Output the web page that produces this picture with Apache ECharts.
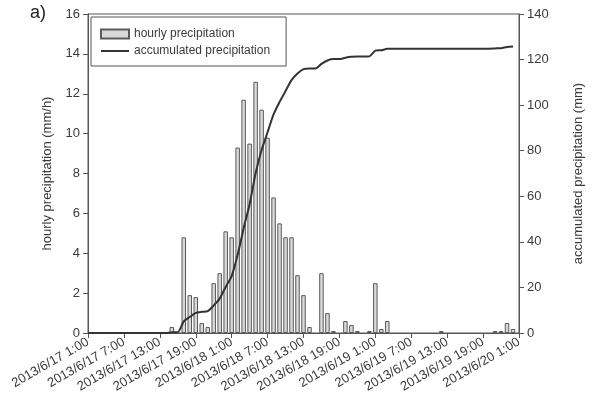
<!DOCTYPE html>
<html>
<head>
<meta charset="utf-8">
<script src="https://cdn.jsdelivr.net/npm/echarts@6/dist/echarts.min.js"></script>
<style>
html,body{margin:0;padding:0;background:#fff;}
#chart{width:593px;height:405px;}
</style>
</head>
<body>
<div id="chart"></div>
<script>
// Tick labels along the time axis (every 6 hours from 2013/6/17 1:00)
var tickLabels = ['2013/6/17 1:00','2013/6/17 7:00','2013/6/17 13:00','2013/6/17 19:00',
  '2013/6/18 1:00','2013/6/18 7:00','2013/6/18 13:00','2013/6/18 19:00',
  '2013/6/19 1:00','2013/6/19 7:00','2013/6/19 13:00','2013/6/19 19:00','2013/6/20 1:00'];

// Hourly precipitation (mm/h), index = hours after 2013/6/17 1:00
var hourly = [
  0,0,0,0,0,0,0,0,0,0,0,0,0,0,
  0.3,0,4.8,1.9,1.8,0.5,0.3,2.5,3.0,5.1,
  4.8,9.3,11.7,9.5,12.6,11.2,9.8,6.8,5.5,4.8,4.8,2.9,
  1.9,0.3,0,3.0,1.0,0.1,0,0.6,0.4,0.1,0,0.1,
  2.5,0.2,0.6,0,0,0,0,0,0,0,0,0.1,
  0,0,0,0,0,0,0,0,0.1,0.1,0.5,0.2
];

// Accumulated precipitation (mm), index = hours after 2013/6/17 1:00
var accumulated = [
  0,0,0,0,0,0,0,0,0,0,0,0,0,0,
  0.3,0.3,5.1,7.0,8.8,9.3,9.6,12.1,15.1,20.2,
  25.0,34.3,46.0,56.5,70.1,80.3,88.1,95.9,101.4,106.2,111.0,113.9,
  115.8,116.1,116.1,118.1,119.6,120.2,120.2,120.8,121.2,121.3,121.3,121.4,
  123.9,124.1,124.7,124.7,124.7,124.7,124.7,124.7,124.7,124.7,124.7,124.8,
  124.8,124.8,124.8,124.8,124.8,124.8,124.8,124.8,124.9,125.0,125.5,125.7
];

var barData = hourly.map(function(v,i){ return v === 0 ? [i,'-'] : [i,v]; });
var lineData = accumulated.map(function(v,i){ return [i,v]; });

var font = 'Liberation Sans, Arial, sans-serif';
var txt = '#3a3a3a';
var axc = '#555';

var chart = echarts.init(document.getElementById('chart'));
chart.setOption({
  animation:false,
  backgroundColor:'#fff',
  textStyle:{fontFamily:font,color:txt},
  grid:{left:88,right:65,top:14,bottom:72,show:true,borderColor:axc,borderWidth:1,backgroundColor:'transparent'},
  graphic:[{type:'text',left:30,top:4,style:{text:'a)',fontSize:18,fontFamily:font,fill:'#222'}}],
  legend:{
    orient:'vertical',left:91,top:17,
    borderColor:axc,borderWidth:1,padding:[11,16,9,9],itemGap:5,
    itemWidth:28,itemHeight:9,
    textStyle:{fontSize:12,color:txt,fontFamily:font},
    data:[{name:'hourly precipitation',icon:'rect'},
          {name:'accumulated precipitation',itemStyle:{opacity:0}}]
  },
  xAxis:{
    type:'value',min:0,max:72,interval:6,
    axisLine:{lineStyle:{color:axc}},
    axisTick:{show:true,length:5,lineStyle:{color:axc}},
    splitLine:{show:false},
    axisLabel:{rotate:30,fontSize:13,color:txt,fontFamily:font,margin:8,
      formatter:function(v){ return tickLabels[Math.round(v/6)]; }}
  },
  yAxis:[{
    type:'value',min:0,max:16,interval:2,
    name:'hourly precipitation (mm/h)',nameLocation:'middle',nameGap:34,nameRotate:90,
    nameTextStyle:{fontSize:13,color:txt,fontFamily:font},
    axisLine:{show:true,lineStyle:{color:axc}},
    axisTick:{show:true,length:5,lineStyle:{color:axc}},
    splitLine:{show:false},
    axisLabel:{fontSize:13,color:txt,fontFamily:font,margin:8}
  },{
    type:'value',min:0,max:140,interval:20,position:'right',
    name:'accumulated precipitation (mm)',nameLocation:'middle',nameGap:53,nameRotate:90,
    nameTextStyle:{fontSize:13,color:txt,fontFamily:font},
    axisLine:{show:true,lineStyle:{color:axc}},
    axisTick:{show:true,length:5,lineStyle:{color:axc}},
    splitLine:{show:false},
    axisLabel:{fontSize:13,color:txt,fontFamily:font,margin:8}
  }],
  series:[{
    name:'hourly precipitation',type:'bar',yAxisIndex:0,barWidth:4.5,
    itemStyle:{color:'#d9d9d9',borderColor:'#5a5a5a',borderWidth:1},
    data:barData,z:2
  },{
    name:'accumulated precipitation',type:'line',yAxisIndex:1,
    showSymbol:false,symbol:'none',smooth:0.2,
    lineStyle:{color:'#333',width:2},itemStyle:{color:'#333'},
    data:lineData,z:3
  }]
});
</script>
</body>
</html>
